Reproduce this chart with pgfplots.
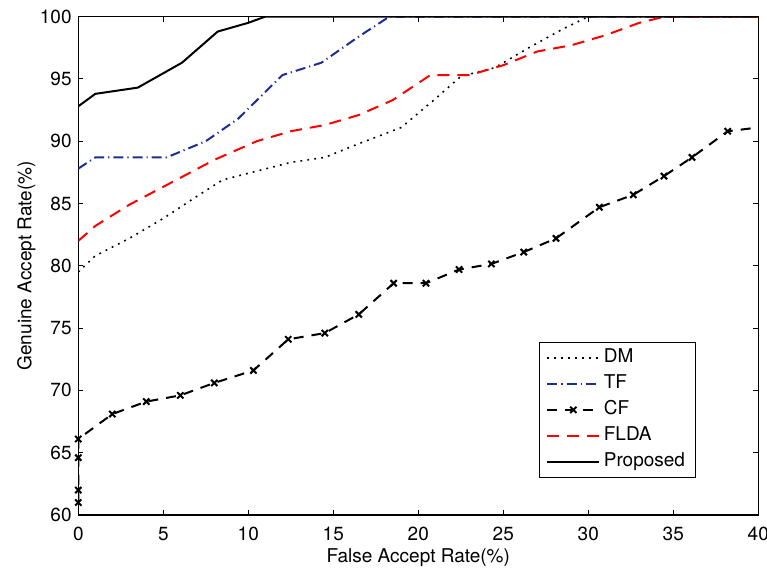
\documentclass[border=0pt]{standalone}
\usepackage{fontspec}
\setmainfont{TeX Gyre Heros}
\usepackage{pgfplots}
\pgfplotsset{compat=1.18}
\definecolor{tfblue}{RGB}{30,45,150}
\begin{document}
\fontsize{9.5}{11}\selectfont
\begin{tikzpicture}
\begin{axis}[
  scale only axis, width=340pt, height=249.2pt,
  xmin=0, xmax=40, ymin=60, ymax=100,
  xtick={0,5,...,40}, ytick={60,65,...,100},
  tick align=inside, tick pos=both,
  major tick length=2.5pt,
  axis line style={line width=0.6pt},
  tick style={line width=0.5pt, black},
  /pgf/number format/assume math mode=true,
  ticklabel style={font=\fontsize{9.5}{11}\selectfont},
  xticklabel style={yshift=-2.6pt},
  xlabel={False Accept Rate(\%)},
  ylabel={Genuine Accept Rate(\%)},
  xlabel style={at={(rel axis cs:0.5,0)}, anchor=center, yshift=-21.5pt},
  ylabel style={at={(rel axis cs:0,0.5)}, anchor=center, yshift=26pt},
  legend cell align=left,
  legend style={at={(0.678,0.0743)}, anchor=south west, draw=black, line width=0.5pt,
    inner xsep=3.25pt, inner ysep=2.3pt, row sep=2pt,
    nodes={inner ysep=1pt, inner xsep=1.75pt, text height=7pt, text depth=2pt},
    font=\fontsize{9.5}{11}\selectfont},
  legend image code/.code={\draw[mark repeat=2,mark phase=2] plot coordinates {(0pt,0pt)(13pt,0pt)(26pt,0pt)};},
]
% DM
\addplot[black, line width=0.8pt, dash pattern=on 0.9pt off 2.6pt] coordinates {
(0,79.5)(1,80.8)(3,82.2)(5,83.8)(7,85.6)(8.5,86.9)(10.5,87.6)(12.5,88.3)(14.5,88.7)(16.5,89.8)(19,91.1)(21,93.4)(22.5,95.2)(24.5,95.9)(26.5,97.5)(28.5,99)(30,100)(40,100)};
\addlegendentry{DM}
% TF
\addplot[tfblue, line width=1pt, dash pattern=on 5pt off 2pt on 0.6pt off 2pt] coordinates {
(0,87.8)(1,88.7)(5.2,88.7)(7.5,90)(9.4,91.8)(12,95.3)(14.3,96.3)(16.5,98.4)(18.3,100)(40,100)};
\addlegendentry{TF}
% CF
\addplot[black, line width=1pt, dash pattern=on 5pt off 4pt, mark=x, mark size=2.2pt,
  mark options={solid, line width=1pt},
  mark indices={1,2,3,4,5,6,7,8,9,10,11,12,13,14,15,16,17,18,19,20,21,22,23},
  legend image code/.code={\draw[mark=none] (0pt,0pt) -- (26pt,0pt); \draw[solid] plot[mark=x] coordinates {(13pt,0pt)};}] coordinates {
(0,61)(0,62)(0,64.6)(0,66.1)(2,68.1)(4,69.1)(6,69.6)(8,70.6)(10.3,71.6)(12.35,74.1)(14.5,74.6)(16.5,76.1)(18.55,78.6)(20.45,78.6)(22.4,79.7)(24.3,80.15)(26.2,81.1)(28.1,82.2)(30.65,84.7)(32.65,85.7)(34.45,87.2)(36.1,88.7)(38.2,90.8)(40,91.1)};
\addlegendentry{CF}
% FLDA
\addplot[red, line width=1pt, dash pattern=on 6pt off 4pt] coordinates {
(0,82)(1,83.2)(3,84.9)(5.5,86.7)(8,88.5)(10.5,90)(12.5,90.8)(14.5,91.3)(16.5,92.1)(18.5,93.3)(20.7,95.3)(23,95.3)(25,96.1)(27,97.2)(29,97.7)(31,98.5)(33,99.5)(34.5,100)(40,100)};
\addlegendentry{FLDA}
% Proposed
\addplot[black, line width=1pt, solid] coordinates {
(0,92.8)(1,93.8)(3.5,94.3)(6.1,96.3)(8.2,98.8)(10,99.5)(11,100)(40,100)};
\addlegendentry{Proposed}
\end{axis}
\pgfresetboundingbox
\path[use as bounding box] (-39.15pt,-28pt) rectangle (344.35pt,257.5pt);
\end{tikzpicture}
\end{document}
